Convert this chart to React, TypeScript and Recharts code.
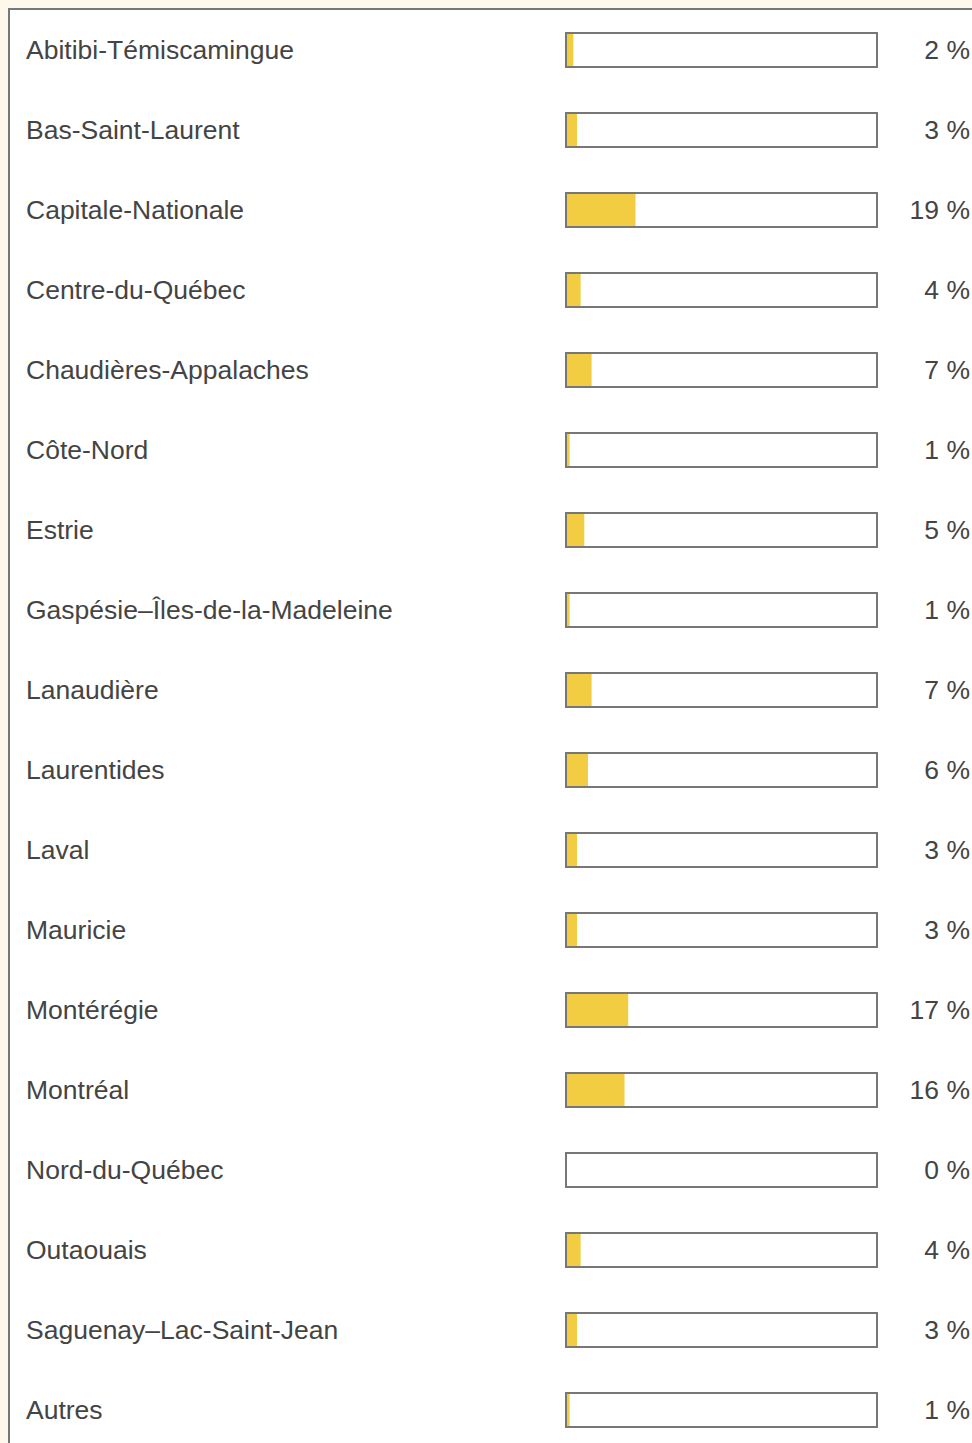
import React from "react";
import { BarChart, Bar, XAxis, YAxis, LabelList } from "recharts";

// ── Data ──────────────────────────────────────────────────────────────────────

const regions = [
  "Abitibi-Témiscamingue",
  "Bas-Saint-Laurent",
  "Capitale-Nationale",
  "Centre-du-Québec",
  "Chaudières-Appalaches",
  "Côte-Nord",
  "Estrie",
  "Gaspésie–Îles-de-la-Madeleine",
  "Lanaudière",
  "Laurentides",
  "Laval",
  "Mauricie",
  "Montérégie",
  "Montréal",
  "Nord-du-Québec",
  "Outaouais",
  "Saguenay–Lac-Saint-Jean",
  "Autres",
];

const shares = [2, 3, 19, 4, 7, 1, 5, 1, 7, 6, 3, 3, 17, 16, 0, 4, 3, 1];

const data = regions.map((name, i) => ({ name, value: shares[i] }));

const FONT = "Arial, 'Liberation Sans', sans-serif";
const TEXT = "#444444";
const BORDER = "#777777";
const YELLOW = "#f2cd42";

// ── Ticks / labels ────────────────────────────────────────────────────────────

function RegionTick(props: any) {
  const { y, payload } = props;
  return (
    <text
      x={16}
      y={y}
      dy={9}
      textAnchor="start"
      fontSize={26.5}
      fontFamily={FONT}
      fill={TEXT}
    >
      {payload.value}
    </text>
  );
}

function PercentLabel(props: any) {
  const { y, height, value } = props;
  return (
    <text
      x={960}
      y={Number(y) + Number(height) / 2}
      dy={9}
      textAnchor="end"
      fontSize={26.5}
      fontFamily={FONT}
      fill={TEXT}
    >
      {`${value} %`}
    </text>
  );
}

// yellow fill sits inside the grey track border
function FillShape(props: any) {
  const { x, y, width, height } = props;
  const w = Math.max(0, width - 1);
  if (w <= 0) return null;
  return <rect x={x + 1} y={y + 1} width={w} height={height - 2} fill={YELLOW} />;
}

export default function App() {
  return (
    <div style={{ position: "fixed", inset: 0, background: "#fdf8eb", overflow: "hidden" }}>
      <div
        style={{
          position: "absolute",
          left: 8,
          top: 8,
          width: 980,
          height: 1460,
          background: "#fff",
          borderTop: `2px solid ${BORDER}`,
          borderLeft: `2px solid ${BORDER}`,
        }}
      >
        <BarChart
          width={962}
          height={1440}
          data={data}
          layout="vertical"
          margin={{ top: 0, right: 95, bottom: 0, left: 0 }}
          barCategoryGap={0}
        >
          <XAxis type="number" domain={[0, 85]} hide />
          <YAxis
            type="category"
            dataKey="name"
            width={556}
            interval={0}
            axisLine={false}
            tickLine={false}
            tick={<RegionTick />}
          />
          <Bar
            dataKey="value"
            barSize={34}
            isAnimationActive={false}
            background={{ fill: "#fff", stroke: BORDER, strokeWidth: 2 }}
            shape={<FillShape />}
          >
            <LabelList dataKey="value" content={<PercentLabel />} />
          </Bar>
        </BarChart>
      </div>
    </div>
  );
}
